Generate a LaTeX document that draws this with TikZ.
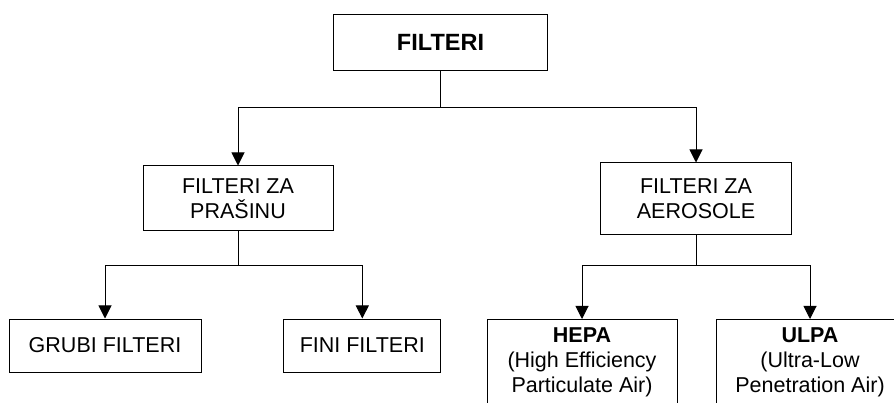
\documentclass[tikz,border=0pt]{standalone}
\usepackage{fontspec}
\setmainfont{Liberation Sans}
\usetikzlibrary{arrows.meta}

\tikzset{
  box/.style={draw,line width=1pt,inner sep=0pt,align=center,
    font=\fontsize{21.5}{25}\selectfont},
  words/.style={inner sep=0pt,align=center,font=\fontsize{21.5}{25}\selectfont},
  link/.style={line width=1pt},
  feed/.style={link,-{Triangle[width=13pt,length=13pt]}},
}

\begin{document}
\begin{tikzpicture}[x=1pt,y=-1pt]
\clip (0,0) rectangle (894,403);
% root
\node[box,minimum width=214pt,minimum height=56pt,
  font=\fontsize{23.5}{28}\selectfont\bfseries] (filteri) at (440.5,42.5) {FILTERI};
% second level
\node[box,minimum width=190pt,minimum height=65pt] (prasina) at (238,198.5) {FILTERI ZA\\PRAŠINU};
\node[box,minimum width=191pt,minimum height=72pt] (aerosoli) at (696,199) {FILTERI ZA\\AEROSOLE};
% third level
\node[box,minimum width=192pt,minimum height=53pt] (grubi) at (105,345.5) {GRUBI FILTERI};
\node[box,minimum width=157pt,minimum height=53pt] (fini) at (362.3,345.5) {FINI FILTERI};
\node[box,minimum width=190pt,minimum height=110pt,anchor=north] (hepa) at (582,319) {};
\node[box,minimum width=188pt,minimum height=110pt,anchor=north] (ulpa) at (810,319) {};
\node[words,anchor=north] (hepatext) at ([yshift=-9pt]hepa.north) {\textbf{HEPA}\\(High Efficiency\\Particulate Air)};
\node[words,anchor=north] (ulpatext) at ([yshift=-9pt]ulpa.north) {\textbf{ULPA}\\(Ultra-Low\\Penetration Air)};

% connectors
\coordinate (fork) at (440.5,108);
\coordinate (forkleft) at (238,266);
\coordinate (forkright) at (696,266);
\draw[link] (filteri.south) -- (fork);
\draw[feed] (fork) -| (prasina.north);
\draw[feed] (fork) -| (aerosoli.north);
\draw[link] (prasina.south) -- (forkleft);
\draw[feed] (forkleft) -| (grubi.north);
\draw[feed] (forkleft) -| (fini.north);
\draw[link] (aerosoli.south) -- (forkright);
\draw[feed] (forkright) -| (hepa.north);
\draw[feed] (forkright) -| (ulpa.north);
\end{tikzpicture}
\end{document}
